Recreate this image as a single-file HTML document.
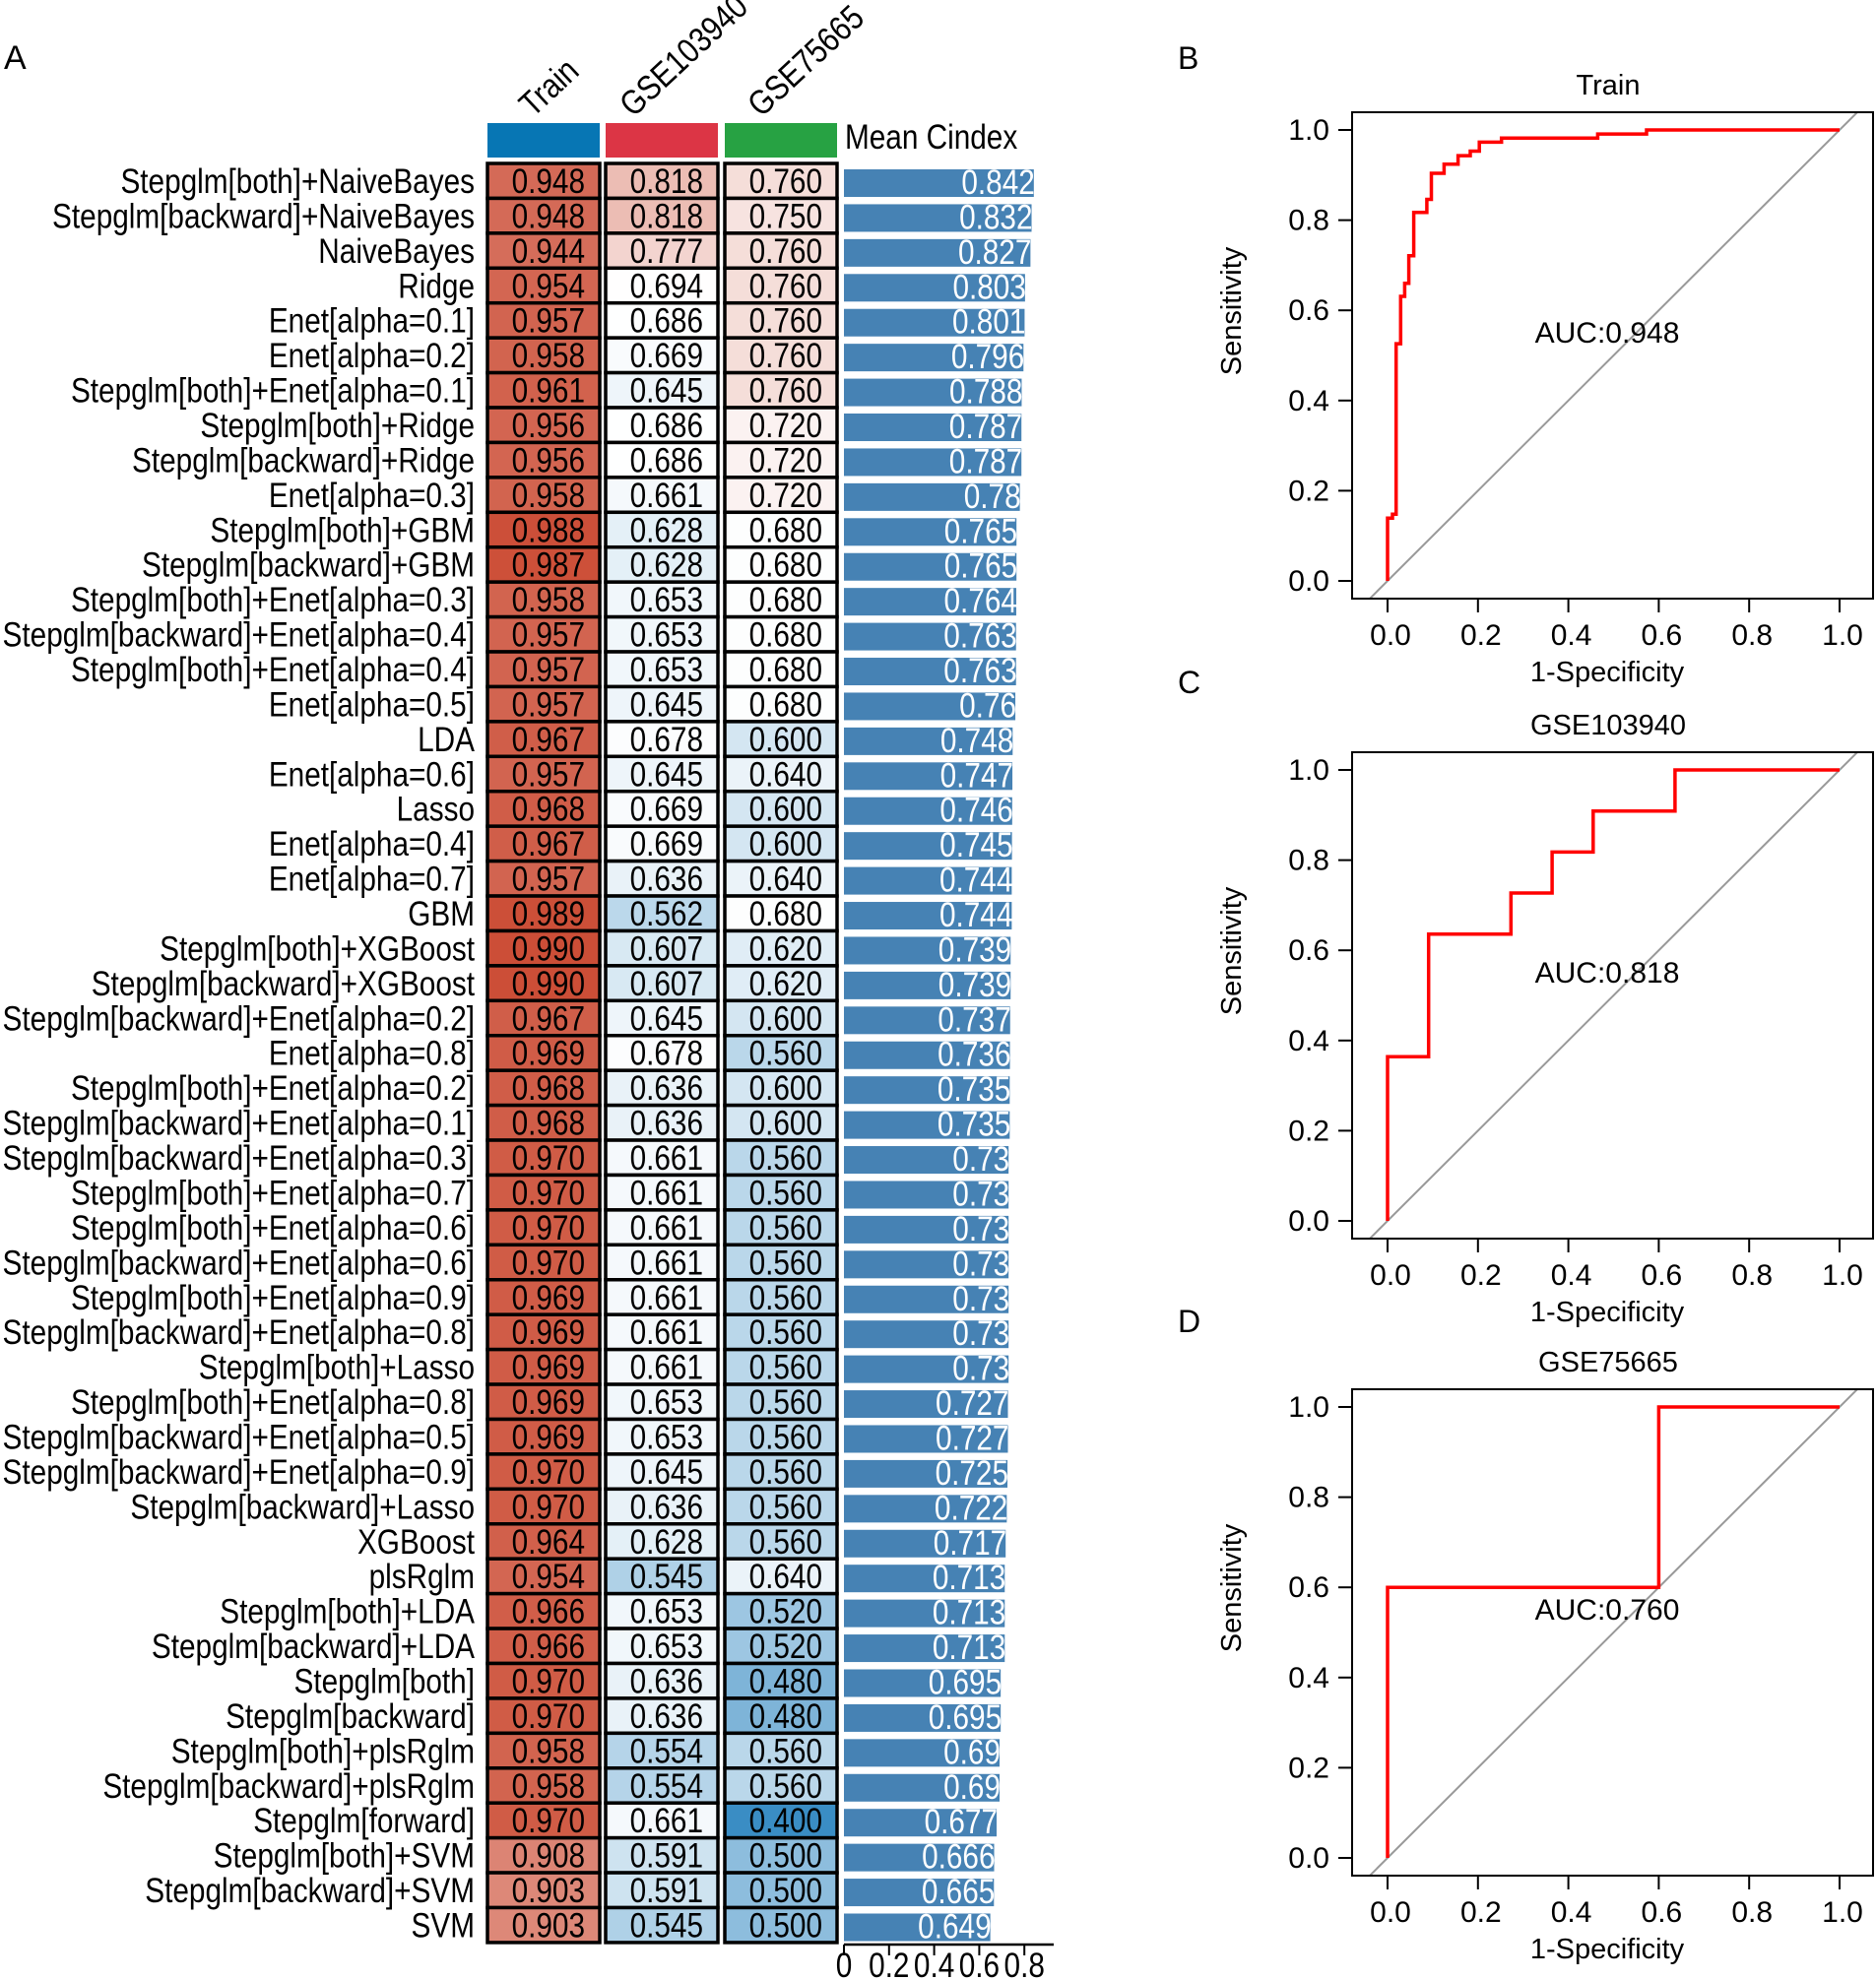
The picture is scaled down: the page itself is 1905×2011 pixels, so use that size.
<!DOCTYPE html>
<html><head><meta charset="utf-8"><style>
html,body{margin:0;padding:0;background:#fff;}
svg{display:block;font-family:"Liberation Sans",Arial,sans-serif;}
</style></head><body>
<svg id="fig" width="1905" height="2011" viewBox="0 0 1905 2011" xmlns="http://www.w3.org/2000/svg">
<rect x="0" y="0" width="1905" height="2011" fill="#fff"/>
<g id="heat"></g>
<g id="roc"></g>
</svg>
<script>
const models = ["Stepglm[both]+NaiveBayes","Stepglm[backward]+NaiveBayes","NaiveBayes","Ridge","Enet[alpha=0.1]","Enet[alpha=0.2]","Stepglm[both]+Enet[alpha=0.1]","Stepglm[both]+Ridge","Stepglm[backward]+Ridge","Enet[alpha=0.3]","Stepglm[both]+GBM","Stepglm[backward]+GBM","Stepglm[both]+Enet[alpha=0.3]","Stepglm[backward]+Enet[alpha=0.4]","Stepglm[both]+Enet[alpha=0.4]","Enet[alpha=0.5]","LDA","Enet[alpha=0.6]","Lasso","Enet[alpha=0.4]","Enet[alpha=0.7]","GBM","Stepglm[both]+XGBoost","Stepglm[backward]+XGBoost","Stepglm[backward]+Enet[alpha=0.2]","Enet[alpha=0.8]","Stepglm[both]+Enet[alpha=0.2]","Stepglm[backward]+Enet[alpha=0.1]","Stepglm[backward]+Enet[alpha=0.3]","Stepglm[both]+Enet[alpha=0.7]","Stepglm[both]+Enet[alpha=0.6]","Stepglm[backward]+Enet[alpha=0.6]","Stepglm[both]+Enet[alpha=0.9]","Stepglm[backward]+Enet[alpha=0.8]","Stepglm[both]+Lasso","Stepglm[both]+Enet[alpha=0.8]","Stepglm[backward]+Enet[alpha=0.5]","Stepglm[backward]+Enet[alpha=0.9]","Stepglm[backward]+Lasso","XGBoost","plsRglm","Stepglm[both]+LDA","Stepglm[backward]+LDA","Stepglm[both]","Stepglm[backward]","Stepglm[both]+plsRglm","Stepglm[backward]+plsRglm","Stepglm[forward]","Stepglm[both]+SVM","Stepglm[backward]+SVM","SVM"];
const trainVals = [0.948,0.948,0.944,0.954,0.957,0.958,0.961,0.956,0.956,0.958,0.988,0.987,0.958,0.957,0.957,0.957,0.967,0.957,0.968,0.967,0.957,0.989,0.990,0.990,0.967,0.969,0.968,0.968,0.970,0.970,0.970,0.970,0.969,0.969,0.969,0.969,0.969,0.970,0.970,0.964,0.954,0.966,0.966,0.970,0.970,0.958,0.958,0.970,0.908,0.903,0.903];
const gse103940Vals = [0.818,0.818,0.777,0.694,0.686,0.669,0.645,0.686,0.686,0.661,0.628,0.628,0.653,0.653,0.653,0.645,0.678,0.645,0.669,0.669,0.636,0.562,0.607,0.607,0.645,0.678,0.636,0.636,0.661,0.661,0.661,0.661,0.661,0.661,0.661,0.653,0.653,0.645,0.636,0.628,0.545,0.653,0.653,0.636,0.636,0.554,0.554,0.661,0.591,0.591,0.545];
const gse75665Vals = [0.760,0.750,0.760,0.760,0.760,0.760,0.760,0.720,0.720,0.720,0.680,0.680,0.680,0.680,0.680,0.680,0.600,0.640,0.600,0.600,0.640,0.680,0.620,0.620,0.600,0.560,0.600,0.600,0.560,0.560,0.560,0.560,0.560,0.560,0.560,0.560,0.560,0.560,0.560,0.560,0.640,0.520,0.520,0.480,0.480,0.560,0.560,0.400,0.500,0.500,0.500];
const meanLabels = ["0.842","0.832","0.827","0.803","0.801","0.796","0.788","0.787","0.787","0.78","0.765","0.765","0.764","0.763","0.763","0.76","0.748","0.747","0.746","0.745","0.744","0.744","0.739","0.739","0.737","0.736","0.735","0.735","0.73","0.73","0.73","0.73","0.73","0.73","0.73","0.727","0.727","0.725","0.722","0.717","0.713","0.713","0.713","0.695","0.695","0.69","0.69","0.677","0.666","0.665","0.649"];
const columnNames = ["Train","GSE103940","GSE75665"];
const columnColors = ["#0776b4","#dc3545","#27a243"];
const barTicks = [0,0.2,0.4,0.6,0.8];
const barTickLabels = ["0","0.2","0.4","0.6","0.8"];

const trainFpr = [0,0,0.011,0.011,0.019,0.019,0.029,0.029,0.038,0.038,0.047,0.047,0.058,0.058,0.087,0.087,0.097,0.097,0.125,0.125,0.156,0.156,0.183,0.183,0.203,0.203,0.252,0.252,0.465,0.465,0.573,0.573,1.0];
const trainTpr = [0,0.139,0.139,0.148,0.148,0.526,0.526,0.631,0.631,0.66,0.66,0.721,0.721,0.817,0.817,0.846,0.846,0.904,0.904,0.924,0.924,0.943,0.943,0.953,0.953,0.973,0.973,0.982,0.982,0.991,0.991,1.0,1.0];
const g103Fpr = [0,0,0.0909,0.0909,0.273,0.273,0.364,0.364,0.455,0.455,0.636,0.636,1.0];
const g103Tpr = [0,0.364,0.364,0.636,0.636,0.727,0.727,0.818,0.818,0.909,0.909,1.0,1.0];
const g756Fpr = [0,0,0.6,0.6,1.0];
const g756Tpr = [0,0.6,0.6,1.0,1.0];
const rocTitles = ["Train","GSE103940","GSE75665"];
const rocAucs = ["0.948","0.818","0.760"];
const rocTicks = [0,0.2,0.4,0.6,0.8,1.0];
const rocTickLabels = ["0.0","0.2","0.4","0.6","0.8","1.0"];

const NS="http://www.w3.org/2000/svg";
function mk(tag, attrs, parent){const e=document.createElementNS(NS,tag);for(const k in attrs)e.setAttribute(k,attrs[k]);parent.appendChild(e);return e;}
const heat=document.getElementById('heat');
const roc=document.getElementById('roc');
const SX=0.85, FS=35;
function ntext(str,x,y,anchor,parent,fill){
  const t=mk('text',{x:x/SX,y:y,'text-anchor':anchor,'font-size':FS,fill:fill||'#000',transform:'scale('+SX+',1)'},parent);
  t.textContent=str;return t;
}
function hexToRgb(h){return [parseInt(h.substr(1,2),16),parseInt(h.substr(3,2),16),parseInt(h.substr(5,2),16)];}
function mix(a,b,t){const A=hexToRgb(a),B=hexToRgb(b);return 'rgb('+A.map((v,i)=>Math.round(v+(B[i]-v)*t)).join(',')+')';}
function cellColor(v){const mid=0.69;if(v>=mid){return mix('#ffffff','#cc4e37',Math.pow(Math.min(1,(v-mid)/0.30),1.15));}return mix('#ffffff','#3a8dc4',Math.pow(Math.min(1,(mid-v)/0.29),1.3));}

const rowTop=166, rowH=35.43, colX=[495,615,736], colW=114;
const barX0=857, barScale=229;
function yRow(i){return rowTop+i*rowH;}
function xBar(v){return barX0+v*barScale;}

let t=mk('text',{x:4,y:70,'font-size':34},heat);t.textContent='A';


const colData=[trainVals,gse103940Vals,gse75665Vals];
const hdrStart=[541,643,773];
for(let c=0;c<3;c++){
  const r=mk('rect',{x:colX[c],y:125,width:colW,height:35,fill:columnColors[c]},heat);
  
  
  const h=mk('text',{x:0,y:0,'font-size':FS,transform:'translate('+hdrStart[c]+',120) rotate(-43) scale('+SX+',1)'},heat);
  h.textContent=columnNames[c];
  
  
}
const mc=ntext('Mean Cindex',858,151,'start',heat);



for(let i=0;i<models.length;i++){
  const y=yRow(i);
  const lab=ntext(models[i],482,y+30,'end',heat);
  
  
  for(let c=0;c<3;c++){
    const v=colData[c][i];
    const r=mk('rect',{x:colX[c],y:y,width:colW,height:rowH,fill:cellColor(v),stroke:'#000','stroke-width':3.5},heat);
    
    
    const vt=ntext(v.toFixed(3),colX[c]+colW-15,y+30,'end',heat);
    
    
  }
  const mv=parseFloat(meanLabels[i]);
  const b=mk('rect',{x:barX0,y:y+6,width:xBar(mv)-barX0,height:28,fill:'#4682b4'},heat);
  
  
  const bt=ntext(meanLabels[i],xBar(mv)+1,y+31,'end',heat,'#fff');
  
  
}
const axY=1975;
const ax=mk('line',{x1:barX0,y1:axY,x2:1070,y2:axY,stroke:'#000','stroke-width':2.5},heat);


barTicks.forEach((v,k)=>{
  const tk=mk('line',{x1:xBar(v),y1:axY,x2:xBar(v),y2:axY+11,stroke:'#000','stroke-width':2},heat);
  
  
  const tl=ntext(barTickLabels[k],xBar(v),2008,'middle',heat);
  
  
});

const offsets=[0,650,1297];
const fprs=[trainFpr,g103Fpr,g756Fpr], tprs=[trainTpr,g103Tpr,g756Tpr];
const letters=['B','C','D'];
for(let p=0;p<3;p++){
  const o=offsets[p];
  const g=mk('g',{},roc);
  
  
  const xs=v=>1409+459*v, ys=v=>590+o-458*v;
  const L=mk('text',{x:1196,y:70+o+(p==1?-16:(p==2?-14:0)),'font-size':32},g);L.textContent=letters[p];
  
  const ti=mk('text',{x:1633,y:96+o,'font-size':29,'text-anchor':'middle'},g);ti.textContent=rocTitles[p];
  
  const cid='clip'+p;
  const cp=mk('clipPath',{id:cid},g);mk('rect',{x:1373,y:114+o,width:529,height:494},cp);
  const dg=mk('line',{x1:xs(-0.2),y1:ys(-0.2),x2:xs(1.2),y2:ys(1.2),stroke:'#999','stroke-width':2,'clip-path':'url(#'+cid+')'},g);
  
  let d='';fprs[p].forEach((f,k)=>{d+=(k?'L':'M')+xs(f).toFixed(1)+' '+ys(tprs[p][k]).toFixed(1);});
  const cv=mk('path',{d:d,fill:'none',stroke:'#f00','stroke-width':3.5},g);
  
  const bx=mk('rect',{x:1373,y:114+o,width:529,height:494,fill:'none',stroke:'#000','stroke-width':2},g);
  
  rocTicks.forEach((v,k)=>{
    const a=mk('line',{x1:xs(v),y1:608+o,x2:xs(v),y2:622+o,stroke:'#000','stroke-width':2},g);
    
    const al=mk('text',{x:xs(v)+3,y:655+o,'font-size':30,'text-anchor':'middle'},g);al.textContent=rocTickLabels[k];
    
    const b=mk('line',{x1:1359,y1:ys(v),x2:1373,y2:ys(v),stroke:'#000','stroke-width':2},g);
    
    const bl=mk('text',{x:1350,y:ys(v)+10,'font-size':30,'text-anchor':'end'},g);bl.textContent=rocTickLabels[k];
    
  });
  const xl=mk('text',{x:1632,y:692+o,'font-size':29,'text-anchor':'middle'},g);xl.textContent='1-Specificity';
  
  const yl=mk('text',{x:0,y:0,'font-size':29,'text-anchor':'middle',transform:'translate(1260,'+(316+o)+') rotate(-90)'},g);yl.textContent='Sensitivity';
  
  const au=mk('text',{x:1632,y:348+o,'font-size':30,'text-anchor':'middle'},g);au.textContent='AUC:'+rocAucs[p];
  
}
</script>
</body></html>
